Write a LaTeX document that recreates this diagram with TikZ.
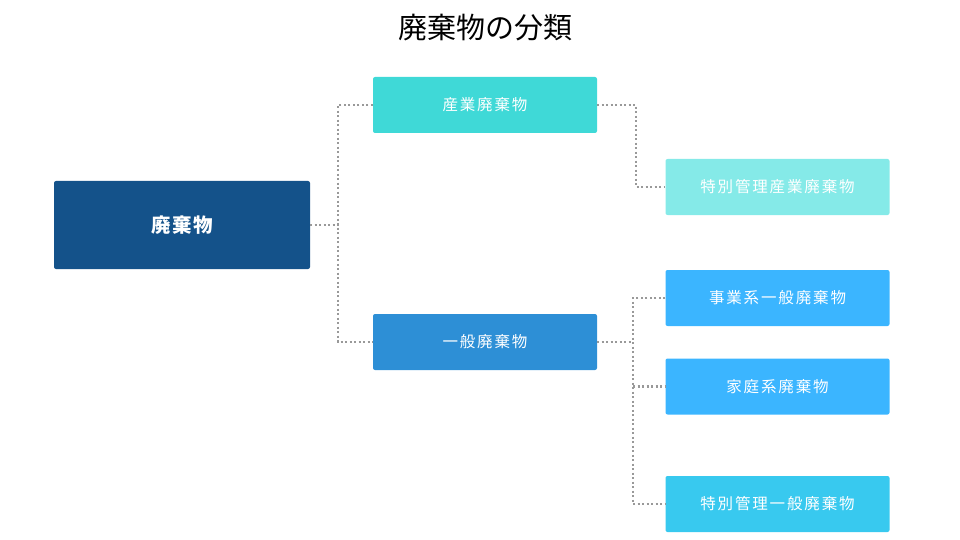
\documentclass[tikz,border=0pt]{standalone}
\usepackage{fontspec}
\setmainfont{Noto Sans CJK JP}
\usetikzlibrary{positioning}
\definecolor{rootcolor}{HTML}{14528A}
\definecolor{indcolor}{HTML}{3FD9D7}
\definecolor{tokuindcolor}{HTML}{85EAE8}
\definecolor{gencolor}{HTML}{2D8FD6}
\definecolor{subcolor}{HTML}{3BB5FF}
\definecolor{tokugencolor}{HTML}{38C9EF}
\definecolor{linkcolor}{HTML}{999999}
\newcommand{\boxw}{224pt}
\newcommand{\boxh}{56pt}

\begin{document}
\begin{tikzpicture}[x=1pt, y=-1pt]
    \tikzset{
        box/.style={rectangle, rounded corners=2pt, inner sep=0pt, text=white,
            minimum width=\boxw, minimum height=\boxh,
            font=\fontsize{15.5}{18}\selectfont\addfontfeature{LetterSpace=12}},
        link/.style={draw=linkcolor, line width=2.5pt, dash pattern=on 2.2pt off 2.3pt}
    }
    \useasboundingbox (0, 0) rectangle (960, 540);

    \node (title) at (485, 28) {\fontsize{29}{32}\selectfont 廃棄物の分類};

    \node[box, fill=rootcolor, minimum width=256pt, minimum height=88pt,
        font=\fontsize{19.5}{22}\selectfont\bfseries\addfontfeature{LetterSpace=8}] (root) at (182, 225) {廃棄物};
    \node[box, fill=indcolor] (ind) at (485, 105) {産業廃棄物};
    \node[box, fill=gencolor] (gen) at (485, 342) {一般廃棄物};
    \node[box, fill=tokuindcolor] (tokuind) at (777.5, 187) {特別管理産業廃棄物};
    \node[box, fill=subcolor] (jigyo) at (777.5, 298) {事業系一般廃棄物};
    \node[box, fill=subcolor] (katei) at (777.5, 386.5) {家庭系廃棄物};
    \node[box, fill=tokugencolor] (tokugen) at (777.5, 504) {特別管理一般廃棄物};

    % dotted links
    \coordinate (rootj) at (338, 225);
    \coordinate (indj) at (636, 105);
    \coordinate (genj) at (633, 342);
    \draw[link] (root.east) -- (rootj);
    \draw[link] (ind.west) -| (rootj) |- (gen.west);
    \draw[link] (ind.east) -- (indj) |- (tokuind.west);
    \draw[link] (gen.east) -- (genj);
    \draw[link] (jigyo.west) -| (genj) |- (tokugen.west);
    \draw[link] (genj |- katei.west) -- (katei.west);
\end{tikzpicture}
\end{document}
